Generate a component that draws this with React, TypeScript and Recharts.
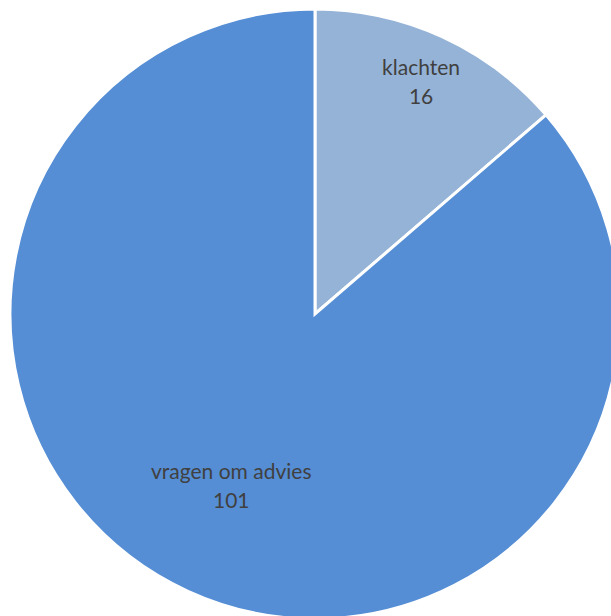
import { Cell, Pie, PieChart } from "recharts";

// Pie slices, in drawing order (clockwise from 12 o'clock)
const categories = ["klachten", "vragen om advies"];
const counts = [16, 101];
const colors = ["#95B3D7", "#558ED5"];

const data = categories.map((name, i) => ({ name, value: counts[i] }));

// how far out (fraction of radius) each label sits, like Excel's best fit
const labelRadius = [0.835, 0.62];

const RAD = Math.PI / 180;

function SliceLabel(props: any) {
  const { cx, cy, midAngle, outerRadius, index, name, value } = props;
  const r = outerRadius * labelRadius[index];
  const x = cx + r * Math.cos(-midAngle * RAD) - (index === 1 ? 5 : 0);
  const y = cy + r * Math.sin(-midAngle * RAD);
  return (
    <text
      x={x}
      y={y}
      textAnchor="middle"
      fill="#404040"
      fontSize={21}
      fontFamily="Lato, 'Open Sans', sans-serif"
    >
      <tspan x={x} y={y - 7}>
        {name}
      </tspan>
      <tspan x={x} y={y + 22}>
        {value}
      </tspan>
    </text>
  );
}

export default function App() {
  return (
    <div style={{ position: "absolute", left: 0, top: 0, width: 611, height: 616, overflow: "hidden", background: "#fff" }}>
      <PieChart width={611} height={616} margin={{ top: 0, right: 0, bottom: 0, left: 0 }}>
        <Pie
          data={data}
          dataKey="value"
          nameKey="name"
          cx={315}
          cy={314}
          outerRadius={305}
          startAngle={90}
          endAngle={-270}
          stroke="#ffffff"
          strokeWidth={3}
          label={SliceLabel}
          labelLine={false}
          isAnimationActive={false}
        >
          {data.map((d, i) => (
            <Cell key={d.name} fill={colors[i]} />
          ))}
        </Pie>
      </PieChart>
    </div>
  );
}
